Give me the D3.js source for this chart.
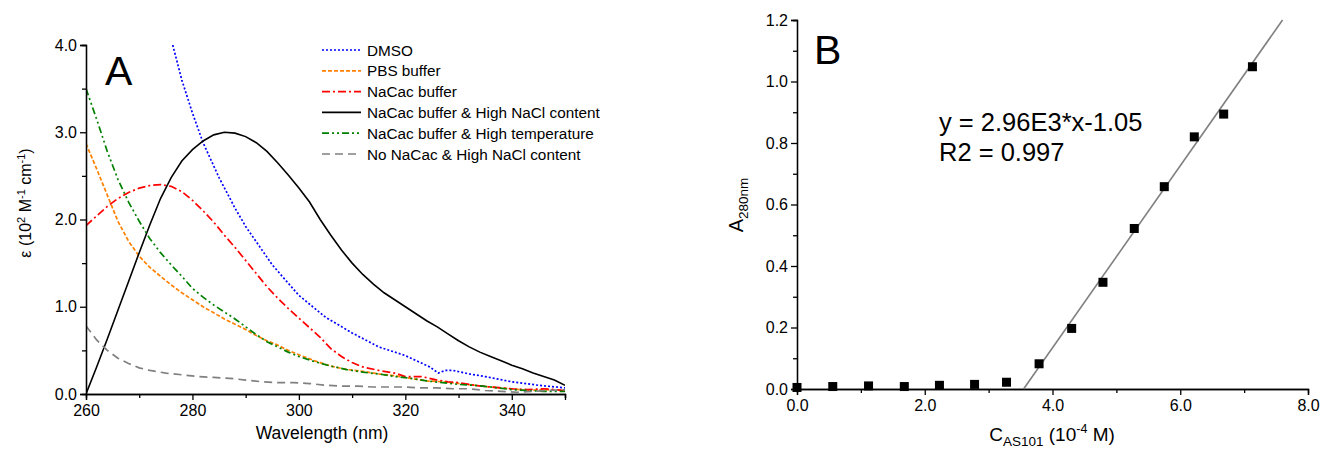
<!DOCTYPE html>
<html>
<head>
<meta charset="utf-8">
<script src="https://cdn.jsdelivr.net/npm/d3@7"></script>
<style>
  body { margin: 0; background: #fff; }
  svg { font-family: "Liberation Sans", Arial, sans-serif; }
  .axis path, .axis line { stroke: #000; stroke-width: 1.3; }
</style>
</head>
<body>
<svg width="1321" height="453"></svg>
<script>
// ---- Panel A data (wavelength in nm, epsilon in 10^2 M-1 cm-1) ----
const dmsoWl = [276.3, 278, 280, 282, 285, 288, 290, 295, 300, 305, 310, 315, 320, 324.6, 326.2, 327.5, 329, 332, 335, 340, 345, 350];
const dmsoEps = [4.0, 3.6, 3.22, 2.88, 2.48, 2.13, 1.92, 1.48, 1.13, 0.88, 0.7, 0.54, 0.44, 0.31, 0.24, 0.27, 0.27, 0.23, 0.2, 0.14, 0.1, 0.07];

const pbsWl = [260, 262, 264, 266, 268, 270, 272, 274, 276, 278, 280, 282, 284, 286, 288, 290, 292, 294, 296, 298, 300, 303, 306, 309, 312, 315, 318, 321, 324, 327, 330, 333, 336, 340, 343, 346, 350];
const pbsEps = [2.87, 2.58, 2.28, 1.98, 1.75, 1.58, 1.45, 1.35, 1.25, 1.16, 1.08, 1.0, 0.93, 0.86, 0.8, 0.74, 0.67, 0.61, 0.56, 0.5, 0.45, 0.38, 0.32, 0.28, 0.26, 0.23, 0.21, 0.18, 0.15, 0.14, 0.12, 0.1, 0.08, 0.06, 0.04, 0.05, 0.04];

const nacacWl = [260, 262, 264, 266, 268, 270, 272, 274, 276, 278, 280, 282, 284, 286, 288, 290, 292, 294, 296, 298, 300, 302, 304, 306, 308, 310, 312, 315, 318, 320, 323, 326, 328, 330, 333, 336, 340, 343, 346, 350];
const nacacEps = [1.93, 2.04, 2.15, 2.24, 2.31, 2.36, 2.39, 2.4, 2.38, 2.32, 2.22, 2.1, 1.97, 1.82, 1.68, 1.53, 1.38, 1.23, 1.1, 0.98, 0.87, 0.76, 0.65, 0.52, 0.43, 0.36, 0.31, 0.27, 0.24, 0.2, 0.2, 0.16, 0.14, 0.13, 0.1, 0.08, 0.06, 0.05, 0.06, 0.04];

const saltWl = [260, 262, 264, 266, 268, 270, 272, 274, 276, 278, 280, 282, 284, 286, 288, 290, 292, 294, 296, 298, 300, 302, 304, 306, 308, 310, 312, 314, 316, 318, 320, 322, 324, 326, 328, 330, 332, 334, 336, 338, 340, 342, 344, 346, 348, 350];
const saltEps = [0, 0.31, 0.63, 0.96, 1.29, 1.62, 1.94, 2.24, 2.48, 2.67, 2.8, 2.9, 2.97, 3.0, 2.99, 2.95, 2.88, 2.78, 2.65, 2.51, 2.36, 2.2, 2.0, 1.82, 1.65, 1.5, 1.37, 1.26, 1.16, 1.08, 1.0, 0.92, 0.84, 0.77, 0.69, 0.61, 0.54, 0.48, 0.43, 0.38, 0.33, 0.29, 0.24, 0.2, 0.16, 0.1];

const heatWl = [260, 262, 264, 266, 268, 270, 272, 274, 276, 278, 280, 282, 284, 286, 288, 290, 292, 294, 296, 298, 300, 303, 306, 309, 312, 315, 318, 321, 324, 327, 330, 333, 336, 340, 343, 346, 350];
const heatEps = [3.5, 3.15, 2.78, 2.46, 2.2, 1.98, 1.78, 1.62, 1.48, 1.35, 1.21, 1.11, 1.02, 0.94, 0.86, 0.77, 0.68, 0.6, 0.54, 0.48, 0.43, 0.37, 0.32, 0.28, 0.25, 0.23, 0.2, 0.18, 0.15, 0.13, 0.11, 0.1, 0.08, 0.05, 0.04, 0.03, 0.03];

const noBufWl = [260, 261, 262, 264, 266, 268, 270, 272, 275, 278, 281, 284, 287, 290, 293, 296, 299, 302, 305, 308, 311, 314, 317, 320, 323, 326, 329, 332, 335, 338, 341, 344, 347, 350];
const noBufEps = [0.78, 0.7, 0.62, 0.5, 0.41, 0.35, 0.3, 0.27, 0.24, 0.22, 0.2, 0.19, 0.18, 0.16, 0.14, 0.13, 0.13, 0.12, 0.1, 0.09, 0.09, 0.08, 0.08, 0.08, 0.07, 0.07, 0.06, 0.06, 0.04, 0.03, 0.02, 0.03, 0.04, 0.05];

const seriesNames = ["DMSO", "PBS buffer", "NaCac buffer", "NaCac buffer & High NaCl content", "NaCac buffer & High temperature", "No NaCac & High NaCl content"];
const seriesColors = ["#0000ff", "#ff8000", "#ff0000", "#000000", "#008000", "#808080"];
const seriesDash = ["2,2", "4,2", "8,3,2,3", null, "7,3,2,3,2,3", "8,5"];
const seriesWl = [dmsoWl, pbsWl, nacacWl, saltWl, heatWl, noBufWl];
const seriesEps = [dmsoEps, pbsEps, nacacEps, saltEps, heatEps, noBufEps];

const aXTicks = [260, 280, 300, 320, 340];
const aYTicks = [0, 1, 2, 3, 4];

// ---- Panel B data (concentration in 10^-4 M, absorbance at 280 nm) ----
const conc = [0, 0.56, 1.12, 1.68, 2.23, 2.78, 3.28, 3.79, 4.3, 4.79, 5.28, 5.75, 6.22, 6.68, 7.13];
const absorb = [0.005, 0.008, 0.01, 0.008, 0.012, 0.015, 0.022, 0.082, 0.197, 0.347, 0.522, 0.658, 0.82, 0.894, 1.048];
// linear fit shown in the figure: y = 2.96E3*x - 1.05 (x in M)
const fitSlope = 2.96e3 * 1e-4;
const fitIntercept = -1.05;

const bXTicks = [0, 2, 4, 6, 8];
const bYTicks = [0, 0.2, 0.4, 0.6, 0.8, 1.0, 1.2];

const svg = d3.select("svg");

function styleTicks(g) {
  g.selectAll("text")
    .attr("font-family", "'Liberation Sans', Arial, sans-serif")
    .attr("font-size", 16)
    .attr("fill", "#000");
}

// ================= Panel A =================
const xA = d3.scaleLinear().domain([260, 350]).range([86, 565]);
const yA = d3.scaleLinear().domain([0, 4]).range([394, 45]);

svg.append("clipPath").attr("id", "clipA")
  .append("rect").attr("x", 86).attr("y", 45).attr("width", 479).attr("height", 349);

const gA = svg.append("g");
const lineA = d3.line().x(d => xA(d[0])).y(d => yA(d[1]));

const curves = gA.append("g").attr("clip-path", "url(#clipA)");
seriesNames.forEach((name, i) => {
  const pts = seriesWl[i].map((w, j) => [w, seriesEps[i][j]]);
  curves.append("path")
    .datum(pts)
    .attr("d", lineA)
    .attr("fill", "none")
    .attr("stroke", seriesColors[i])
    .attr("stroke-width", i === 3 ? 1.6 : 1.7)
    .attr("stroke-dasharray", seriesDash[i]);
});

// axes A (major + minor ticks)
gA.append("g").attr("class", "axis")
  .attr("transform", "translate(0,394)")
  .call(d3.axisBottom(xA).tickValues(d3.range(270, 351, 20)).tickSize(4).tickFormat(""));
gA.append("g").attr("class", "axis")
  .attr("transform", "translate(0,394)")
  .call(d3.axisBottom(xA).tickValues(aXTicks).tickSize(6).tickPadding(5).tickFormat(d3.format("d")))
  .call(styleTicks);
gA.append("g").attr("class", "axis")
  .attr("transform", "translate(86,0)")
  .call(d3.axisLeft(yA).tickValues([0.5, 1.5, 2.5, 3.5]).tickSize(4).tickFormat(""));
gA.append("g").attr("class", "axis")
  .attr("transform", "translate(86,0)")
  .call(d3.axisLeft(yA).tickValues(aYTicks).tickSize(6).tickPadding(3).tickFormat(d3.format(".1f")))
  .call(styleTicks);

gA.append("text")
  .attr("x", 322).attr("y", 439)
  .attr("text-anchor", "middle")
  .attr("font-size", 17.5)
  .text("Wavelength (nm)");

const yLabA = gA.append("text")
  .attr("transform", "translate(31,203) rotate(-90)")
  .attr("text-anchor", "middle")
  .attr("font-size", 16);
yLabA.append("tspan").text("\u03b5 (10");
yLabA.append("tspan").attr("font-size", 11).attr("dy", -6).text("2");
yLabA.append("tspan").attr("dy", 6).text(" M");
yLabA.append("tspan").attr("font-size", 11).attr("dy", -6).text("-1");
yLabA.append("tspan").attr("dy", 6).text(" cm");
yLabA.append("tspan").attr("font-size", 11).attr("dy", -6).text("-1");
yLabA.append("tspan").attr("dy", 6).text(")");

gA.append("text")
  .attr("x", 105).attr("y", 85)
  .attr("font-size", 41)
  .text("A");

// legend A
const legend = gA.append("g");
seriesNames.forEach((name, i) => {
  const ly = 50 + i * 20.8;
  legend.append("line")
    .attr("x1", 322).attr("x2", 361)
    .attr("y1", ly).attr("y2", ly)
    .attr("stroke", seriesColors[i])
    .attr("stroke-width", 1.7)
    .attr("stroke-dasharray", seriesDash[i]);
  legend.append("text")
    .attr("x", 367).attr("y", ly + 5.5)
    .attr("font-size", 15.3)
    .text(name);
});

// ================= Panel B =================
const xB = d3.scaleLinear().domain([0, 8]).range([797, 1308]);
const yB = d3.scaleLinear().domain([0, 1.2]).range([389, 20]);

const gB = svg.append("g");

gB.append("g").attr("class", "axis")
  .attr("transform", "translate(0,389)")
  .call(d3.axisBottom(xB).tickValues([1, 3, 5, 7]).tickSize(4).tickFormat(""));
gB.append("g").attr("class", "axis")
  .attr("transform", "translate(0,389)")
  .call(d3.axisBottom(xB).tickValues(bXTicks).tickSize(6).tickPadding(5).tickFormat(d3.format(".1f")))
  .call(styleTicks);
gB.append("g").attr("class", "axis")
  .attr("transform", "translate(797,0)")
  .call(d3.axisLeft(yB).tickValues([0.1, 0.3, 0.5, 0.7, 0.9, 1.1]).tickSize(4).tickFormat(""));
gB.append("g").attr("class", "axis")
  .attr("transform", "translate(797,0)")
  .call(d3.axisLeft(yB).tickValues(bYTicks).tickSize(6).tickPadding(3).tickFormat(d3.format(".1f")))
  .call(styleTicks);

// fit line, from y = 0 to the top of the axis
const fitX0 = -fitIntercept / fitSlope;
const fitX1 = (1.2 - fitIntercept) / fitSlope;
gB.append("line")
  .attr("x1", xB(fitX0)).attr("y1", yB(fitSlope * fitX0 + fitIntercept))
  .attr("x2", xB(fitX1)).attr("y2", yB(fitSlope * fitX1 + fitIntercept))
  .attr("stroke", "#808080")
  .attr("stroke-width", 1.6);

gB.selectAll("rect.pt")
  .data(conc.map((c, i) => [c, absorb[i]]))
  .enter()
  .append("rect")
  .attr("class", "pt")
  .attr("x", d => xB(d[0]) - 4.5)
  .attr("y", d => yB(d[1]) - 4.5)
  .attr("width", 9).attr("height", 9)
  .attr("fill", "#000");

gB.append("text")
  .attr("x", 939).attr("y", 131)
  .attr("font-size", 25.5)
  .text("y = 2.96E3*x-1.05");
gB.append("text")
  .attr("x", 939).attr("y", 161)
  .attr("font-size", 25.5)
  .text("R2 = 0.997");

gB.append("text")
  .attr("x", 814).attr("y", 64)
  .attr("font-size", 41)
  .text("B");

const xLabB = gB.append("text")
  .attr("x", 1052).attr("y", 441)
  .attr("text-anchor", "middle")
  .attr("font-size", 19);
xLabB.append("tspan").text("C");
xLabB.append("tspan").attr("font-size", 13.5).attr("dy", 5).text("AS101");
xLabB.append("tspan").attr("dy", -5).text(" (10");
xLabB.append("tspan").attr("font-size", 12.5).attr("dy", -8).text("-4");
xLabB.append("tspan").attr("dy", 8).text(" M)");

const yLabB = gB.append("text")
  .attr("transform", "translate(743,205) rotate(-90)")
  .attr("text-anchor", "middle")
  .attr("font-size", 20);
yLabB.append("tspan").text("A");
yLabB.append("tspan").attr("font-size", 13.5).attr("dy", 5).text("280nm");
</script>
</body>
</html>
